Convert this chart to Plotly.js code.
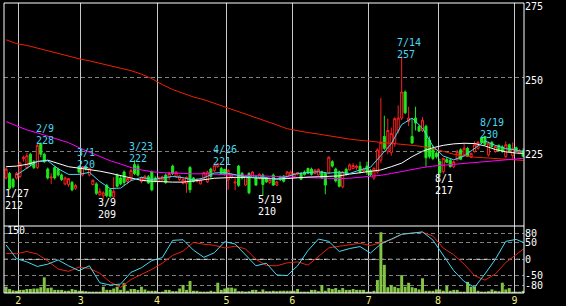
<!DOCTYPE html>
<html><head><meta charset="utf-8">
<script src="https://cdn.plot.ly/plotly-3.0.1.min.js"></script>
<style>html,body{margin:0;padding:0;background:#000;}#chart{width:566px;height:306px;}</style>
</head><body><div id="chart"></div>
<script>
// ---- data (daily candles, trading-day index 0..149) ----
const openP = [216,217.5,215.5,216,216.5,222.5,219.5,224,221.5,219.5,
227.5,224,219,216,219.5,219,217,214,213.8,214.5,
212.5,219.8,217,219.8,217,213.8,214,210.3,210,213.5,
212,209.6,217,216,218,214.8,215.5,220.5,220,214.8,
215.3,216.4,218,216,215,215.3,217,216.2,220,216.5,
215.5,214.2,214.2,219.5,216,214.8,214,216,214.7,219,
218.4,219.8,219.2,218.9,215.3,216.2,214.3,220,217.5,213.6,
217.5,216.2,216.4,215.8,217,215.9,214.5,217,213.6,216.4,
216.6,216.4,217,216.4,217.3,217.5,218,219.2,219,217.5,
217,218.1,217.5,217.8,221.5,219,218,213,218.9,218.7,
219.2,219.5,220,218.3,220,218.5,216,218,222,230,
225,224.5,227.5,232,236.2,245,235,230,236.2,233.3,
232,233.4,228.8,226,224.3,221.5,218.1,222.2,222,219.8,
222.1,225.5,224,226,223,224.9,226,229.5,230,223.8,
228,225,227,226.5,223.2,227.2,223.5,226.2,224.3,225.2];
const highP = [219.5,218,216,218,221.5,223.5,224.5,224.5,222,227.5,
228,224.5,219.5,217.6,220,219.5,217.5,216.5,216,215,
214,220,220,220,219.5,215.5,214.5,212.5,211.5,214,
212.5,216.3,217.5,217,218.5,216,219,222,220.8,216.5,
217,217,218.5,216.5,216.5,216.8,217.5,218.1,220.5,218.3,
217,216,216.5,220,216.3,216,215.5,218,218.5,219.5,
220.5,221,219.8,219,219,217.5,216.4,220.4,218,216.8,
218,218.3,217,217.5,217.5,216.3,216,217.5,215,216.8,
217,218.3,218.5,217.8,218,218,218.5,219.5,219.5,219,
219.2,218.5,218,223.3,222,219.5,218.5,218.3,219.5,220.9,
221,220.5,221.5,219.5,221.5,219,219.5,226,243,237,
236,233,236.5,240.5,257,245.5,240,236,240,234,
236.5,234,230,227,225,222.5,222.8,223,222.5,221.8,
225.5,226,227.7,226.5,224.5,228.3,228.5,229.8,230,228.3,
228.5,227,227.3,227,228.3,227.6,228,226.6,225.8,226];
const lowP = [215.5,212,212.5,215.5,216,221.5,219,220,219,219,
223,221,215.5,214,215.5,216.5,215,213.5,213,211.5,
212,217.5,216.5,218.5,216.5,213.5,210.3,210,209,209.5,
209.3,209.3,212.8,213.5,213.5,214,215,217,216.5,214.2,
214.8,214,211.5,214.5,214.5,215,214,215.3,217,216,
215,213.8,211,211,214.5,214.5,213.8,215.5,214.3,216,
218,219.5,217,216.8,212,215.8,211.9,213,215.5,213.3,
210.5,216,213.3,215.5,210,214.3,214,213.3,213.3,215,
214.5,216,216.8,216,216.8,215.3,216.8,217.3,216.8,217.2,
216.8,215.6,210.5,217.5,219.5,214.5,212.8,212.5,216.8,218.5,
219,218.7,217.5,218,217,216.5,215.3,217.5,221,225.5,
224,223.5,226.5,231,235.5,237.5,233.5,227.5,232,231.5,
231.5,219.8,222.5,222,222.6,217,217.5,221,219.5,219.3,
221.8,222,223.5,223,222.8,224.5,225.5,227.5,227,223.2,
226.3,224.5,224.8,224.5,222.8,224.9,222.5,224.9,224,223];
const closeP = [219,212.5,213,217.5,221,223,223.5,220.5,219.5,227,
224,221.5,216,216.3,216,217,215.5,216,215.8,212,
213.5,218,219.8,219,219.2,215.2,210.8,211.5,211,210,
209.8,211.5,213.2,214,214.5,215.8,218.5,217.5,217,216,
216.6,214.3,212,215,216,216.4,214.5,217.5,217.5,218,
216.6,215.5,216.2,212,214.8,215.5,215.3,217.8,218,216.5,
220.3,220.8,217.5,217.2,218.5,217,214.6,213.5,216,216.5,
211,218,213.6,217.2,213.8,214.7,215.5,213.6,214.7,215.4,
214.9,218,218,217.5,217.8,215.6,217.2,217.6,217.2,218.7,
218.9,216,213.6,223,220,215,213.2,218,217.2,220.4,
220.2,220,218,219,218,217,219.3,225.5,228,226,
232,231,236,236.2,245,238,236.2,227.8,234.5,231.8,
235.5,222.8,223.2,222.6,223.2,217.8,222.6,221.3,219.8,221.5,
224.9,222.3,226,223.3,224.3,227.2,228,228,227.3,227.7,
226.6,226.6,225.2,225,227.2,225.2,226,225.3,225.2,223.3];
const volume = [14,9,6,5,7,7,9,9,10,10,
13,35,11,12,7,7,7,5,5,9,
7,5,5,4,3,3,3,3,14,7,
7,10,14,7,22,5,9,9,7,14,
8,5,5,5,2,3,7,7,4,4,
10,18,7,27,5,5,3,3,3,5,
3,23,7,10,12,12,10,4,4,3,
4,7,7,3,8,4,4,5,4,5,
5,5,5,5,9,3,3,3,7,7,
4,18,5,11,9,11,7,11,7,7,
9,7,7,7,3,3,5,29,136,63,
13,18,14,11,40,14,23,13,11,8,
33,5,5,5,8,8,5,16,5,7,
7,3,3,25,14,14,5,3,3,4,
8,5,4,23,8,11,3,3,3,5];

// indicator lines, read every 3rd trading day
const sampleIdx = [0,3,6,9,12,15,18,21,24,27,30,33,36,39,42,45,48,51,54,57,60,63,66,69,72,75,78,81,84,87,90,93,96,99,102,105,108,111,114,117,120,123,126,129,132,135,138,141,144,147,149];
const maLong = [262.6,261.3,260.7,259.8,258.9,258.0,257.0,256.2,255.5,254.6,253.7,253.0,252.2,251.0,249.5,247.5,245.8,244.5,243.3,242.4,241.2,240.0,238.9,237.6,236.4,235.1,233.9,232.6,231.9,231.3,230.8,230.2,229.6,229.1,228.7,228.4,228.1,227.7,227.4,227.0,226.6,225.9,225.0,224.0,223.4,223.0,222.8,222.6,222.4,222.1,221.9];
const maMid = [235.0,233.6,232.2,231.2,230.1,229.0,227.9,226.2,224.8,223.2,221.8,220.7,219.5,218.7,218.1,217.8,217.6,217.5,217.4,217.4,217.3,217.2,217.1,217.0,216.9,216.7,216.5,216.3,216.2,216.0,215.9,215.8,215.8,215.9,216.2,216.5,216.9,217.5,218.2,218.9,219.5,220.0,220.3,220.5,220.7,221.0,221.3,221.7,222.0,222.4,222.6];
const maShort = [219.8,220.0,220.6,221.5,222.0,220.8,219.8,219.3,218.9,218.3,217.6,216.8,215.8,215.2,214.9,214.7,214.6,214.6,214.9,215.4,215.9,216.1,216.2,216.2,216.0,215.8,215.7,215.8,216.1,216.3,216.4,216.5,216.7,217.3,217.8,218.2,218.7,219.8,221.0,223.2,225.0,226.2,227.0,227.5,227.7,227.6,226.8,225.6,224.8,224.4,224.3];
const maFast = [null,217.0,219.3,221.6,221.8,219.1,217.2,217.2,217.9,214.8,212.4,212.6,215.1,216.2,215.5,216.1,216.5,216.1,215.3,216.0,217.7,217.8,217.0,216.4,216.2,216.1,215.5,216.4,217.5,217.8,218.1,217.6,218.0,217.5,218.7,219.6,223.5,227.5,234.0,236.2,232.8,226.7,223.4,222.1,223.4,225.8,228.5,227.0,225.9,225.4,224.9];
const oscFast = [44,2,-8,-22,-15,-2,-20,-35,-20,-72,-79,-76,-40,-26,-4,5,58,60,28,6,20,54,47,15,-20,-12,-48,-50,-20,27,62,55,24,33,39,19,47,62,77,80,84,59,12,-35,-68,-86,-45,0,55,61,52];
const oscSlow = [18,17,24,16,-5,-30,-37,-24,-28,-43,-70,-86,-62,-46,-31,-12,12,25,52,46,43,35,40,32,0,-19,-20,-11,-8,-18,10,35,40,44,49,42,50,60,76,81,83,71,34,14,-15,-50,-64,-45,-10,16,31];

// month axis
const monthLabels = ['2','3','4','5','6','7','8','9'];
const monthStart = [4,22,44,64,83,105,125,147];
const priceTicks = [225,250,275];
const oscTicks = [-80,-50,0,50,80];
const oscTickText = ['-80','-50','0','50','80'];
const volMaxLabel = '150';

// peak / trough labels
const labelIdx  = [1,10,22,28,37,61,74,114,125,138];
const labelDate = ['1/27','2/9','3/1','3/9','3/23','4/26','5/19','7/14','8/1','8/19'];
const labelKind = ['low','high','high','low','high','high','low','high','low','high'];

// ---- build ----
const dayIdx = openP.map((_, i) => i);
const FONT = 'DejaVu Sans Mono';
const CYAN = '#48d8f0';
const GREEN = '#1ee81e';
const split = 67 / 290;

const traces = [
  {type:'bar', x:dayIdx, y:volume, xaxis:'x', yaxis:'y2',
   marker:{color:'#84c444', line:{width:0}}, hoverinfo:'skip'},
  {type:'candlestick', x:dayIdx, open:openP, high:highP, low:lowP, close:closeP,
   xaxis:'x', yaxis:'y', whiskerwidth:0, hoverinfo:'skip',
   increasing:{line:{color:'#ff2020', width:1}, fillcolor:'#000000'},
   decreasing:{line:{color:GREEN, width:1}, fillcolor:GREEN}},
  {type:'scatter', mode:'lines', x:sampleIdx, y:maLong, xaxis:'x', yaxis:'y', line:{color:'#f02000', width:1}, hoverinfo:'skip'},
  {type:'scatter', mode:'lines', x:sampleIdx, y:maMid, xaxis:'x', yaxis:'y', line:{color:'#ff00ff', width:1}, hoverinfo:'skip'},
  {type:'scatter', mode:'lines', x:sampleIdx, y:maShort, xaxis:'x', yaxis:'y', line:{color:'#ffffff', width:1}, hoverinfo:'skip'},
  {type:'scatter', mode:'lines', x:sampleIdx, y:maFast, xaxis:'x', yaxis:'y', line:{color:CYAN, width:1}, hoverinfo:'skip'},
  {type:'scatter', mode:'lines', x:sampleIdx, y:oscSlow, xaxis:'x', yaxis:'y3', line:{color:'#e82010', width:1}, hoverinfo:'skip'},
  {type:'scatter', mode:'lines', x:sampleIdx, y:oscFast, xaxis:'x', yaxis:'y3', line:{color:CYAN, width:1}, hoverinfo:'skip'}
];

const annotations = [];
labelIdx.forEach((i, k) => {
  const isHigh = labelKind[k] === 'high';
  const yv = isHigh ? highP[i] : lowP[i];
  const col = isHigh ? CYAN : '#ffffff';
  const base = {x:i, y:yv, xref:'x', yref:'y', showarrow:false, xanchor:'left', xshift:-5,
                font:{family:FONT, size:10, color:col}, borderpad:0, borderwidth:0};
  if (isHigh) {
    annotations.push(Object.assign({}, base, {text:labelDate[k], yanchor:'bottom', yshift:8}));
    annotations.push(Object.assign({}, base, {text:String(Math.round(yv)), yanchor:'bottom', yshift:-4}));
  } else {
    annotations.push(Object.assign({}, base, {text:labelDate[k], yanchor:'top', yshift:2}));
    annotations.push(Object.assign({}, base, {text:String(Math.round(yv)), yanchor:'top', yshift:-10}));
  }
});
annotations.push({xref:'paper', yref:'paper', x:0.006, y:split + 0.005, xanchor:'left', yanchor:'top',
  text:volMaxLabel, showarrow:false, font:{family:FONT, size:10, color:'#ffffff'}, borderpad:0, borderwidth:0});

const wl = {color:'#ffffff', width:1};
const shapes = [
  {type:'line', xref:'paper', yref:'y3', x0:0, x1:1, y0:0, y1:0, line:{color:'#ffffff', width:1, dash:'4px,4px'}, layer:'between'},
  {type:'line', xref:'paper', yref:'paper', x0:0, x1:1, y0:1, y1:1, line:wl},
  {type:'line', xref:'paper', yref:'paper', x0:0, x1:1, y0:split, y1:split, line:wl},
  {type:'line', xref:'paper', yref:'paper', x0:0, x1:1, y0:0, y1:0, line:wl},
  {type:'line', xref:'paper', yref:'paper', x0:0, x1:0, y0:0, y1:1, line:wl},
  {type:'line', xref:'paper', yref:'paper', x0:1, x1:1, y0:0, y1:1, line:wl}
];

const layout = {
  width:566, height:306,
  margin:{l:4, r:42, t:3, b:13, pad:0},
  paper_bgcolor:'#000000', plot_bgcolor:'#000000',
  showlegend:false, hovermode:false, dragmode:false,
  bargap:0.15, boxgap:0.15,
  font:{family:FONT, size:10, color:'#ffffff'},
  xaxis:{range:[-0.605,149.25], rangeslider:{visible:false}, anchor:'y2',
    tickmode:'array', tickvals:monthStart.map(v => v - 0.5), ticktext:monthLabels,
    showgrid:true, gridcolor:'#c8c8c8', gridwidth:1, zeroline:false, showline:false, ticks:'',
    tickfont:{family:FONT, size:10, color:'#f0f080'}, fixedrange:true},
  yaxis:{domain:[split,1], range:[199.8,275], side:'right', anchor:'x',
    tickmode:'array', tickvals:priceTicks, ticktext:priceTicks.map(String),
    showgrid:true, gridcolor:'#808080', griddash:'4px,3px', gridwidth:1,
    ticklabelshift:3, ticklabeloverflow:'allow',
    zeroline:false, showline:false, ticks:'', tickfont:{family:FONT, size:10, color:'#ffffff'}, fixedrange:true},
  yaxis2:{domain:[0,split], range:[0,150], anchor:'x', visible:false, showgrid:false, zeroline:false, fixedrange:true},
  yaxis3:{overlaying:'y2', range:[-103.4,102.1], side:'right', anchor:'x',
    tickmode:'array', tickvals:oscTicks, ticktext:oscTickText,
    showgrid:true, gridcolor:'#808080', griddash:'4px,3px', gridwidth:1,
    zeroline:false, showline:false, ticks:'', tickfont:{family:FONT, size:10, color:'#ffffff'}, fixedrange:true},
  annotations:annotations,
  shapes:shapes
};

Plotly.newPlot('chart', traces, layout, {staticPlot:true, displayModeBar:false});
</script>
</body></html>
